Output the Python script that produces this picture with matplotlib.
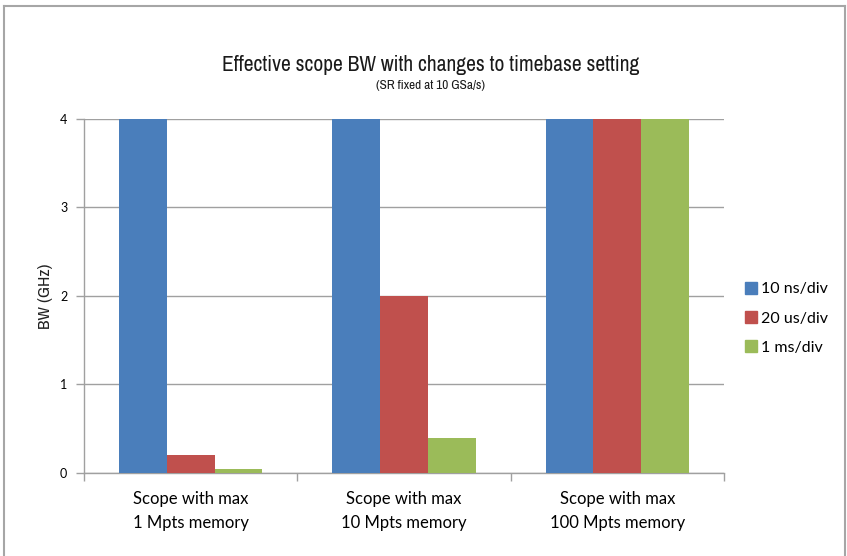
import numpy as np
import matplotlib.pyplot as plt
from matplotlib.lines import Line2D
from matplotlib import font_manager

# Data
categories = ['Scope with max\n1 Mpts memory', 'Scope with max\n10 Mpts memory',
              'Scope with max\n100 Mpts memory']
series_names = ['10 ns/div', '20 us/div', '1 ms/div']
bw_10ns = [4.0, 4.0, 4.0]
bw_20us = [0.2, 2.0, 4.0]
bw_1ms = [0.04, 0.4, 4.0]
colors = ['#4a7ebb', '#c0504d', '#9bbb59']

# look for a narrow font for the title (Univers Condensed look)
narrow = None
for f in font_manager.fontManager.ttflist:
    if 'Narrow' in f.name or 'Condensed' in f.name:
        narrow = f.name
        break
if narrow is None:
    for f in font_manager.fontManager.ttflist:
        if f.stretch in ('condensed', 'semi-condensed', 'extra-condensed') or \
                (isinstance(f.stretch, int) and f.stretch < 500):
            narrow = f.name
            break
cond_font = [narrow, 'DejaVu Sans'] if narrow else ['DejaVu Sans']
cond_stretch = 'condensed'
body_font = ['Lato', 'DejaVu Sans']

fig = plt.figure(figsize=(8.47, 5.56), dpi=100)
ax = fig.add_axes([0.0992, 0.1493, 0.7556, 0.6367])

# Outer frame of the chart
frame_color = '#a6a6a6'
fig.add_artist(Line2D([4/847, 4/847], [0, 1 - 6/556], transform=fig.transFigure, color=frame_color, lw=1.5))
fig.add_artist(Line2D([4/847, 845/847], [1 - 6/556, 1 - 6/556], transform=fig.transFigure, color=frame_color, lw=1.5))
fig.add_artist(Line2D([845/847, 845/847], [0, 1 - 6/556], transform=fig.transFigure, color=frame_color, lw=1.5))

x = np.arange(len(categories))
w = 0.224
for i, (vals, name) in enumerate(zip([bw_10ns, bw_20us, bw_1ms], series_names)):
    ax.bar(x + (i - 1) * w, vals, width=w, color=colors[i], label=name, zorder=3)

ax.set_xlim(-0.5, 2.5)
ax.set_ylim(0, 4)
ax.set_yticks([0, 1, 2, 3, 4])
ax.set_yticklabels(['0', '1', '2', '3', '4'], fontsize=9, family=body_font)
ax.yaxis.grid(True, color='#a0a0a0', lw=1, zorder=0)

# category boundary ticks on x axis
ax.set_xticks([-0.5, 0.5, 1.5, 2.5])
ax.set_xticklabels([])
ax.set_xticks(x, minor=True)
ax.set_xticklabels(categories, minor=True, fontsize=12, family=body_font, linespacing=1.6)
ax.tick_params(axis='x', which='minor', length=0, pad=13)
ax.tick_params(axis='x', which='major', length=6, color='#a0a0a0', width=1)
ax.tick_params(axis='y', length=6, color='#a0a0a0', width=1, pad=6)

for side in ['top', 'right']:
    ax.spines[side].set_visible(False)
for side in ['left', 'bottom']:
    ax.spines[side].set_color('#a0a0a0')
    ax.spines[side].set_linewidth(1)

ax.set_ylabel('BW (GHz)', fontsize=12.5, family=cond_font, fontstretch=cond_stretch,
              labelpad=5, color='#222222')

fig.text(0.509, 0.883, 'Effective scope BW with changes to timebase setting',
         ha='center', va='center', fontsize=15.5, family=cond_font,
         fontstretch=cond_stretch, color='#1a1a1a')
fig.text(0.508, 0.847, '(SR fixed at 10 GSa/s)', ha='center', va='center',
         fontsize=9.5, family=cond_font, fontstretch=cond_stretch, color='#1a1a1a')

handles = [Line2D([], [], marker='s', linestyle='none', markersize=8,
                  markerfacecolor=c, markeredgecolor=c) for c in colors]
fig.legend(handles, series_names, loc='center left', bbox_to_anchor=(0.86, 0.427),
           frameon=False, prop={'family': body_font, 'size': 11.5},
           handletextpad=0.15, labelspacing=0.95, handlelength=1.0)

fig.savefig('out.png', dpi=100, facecolor='white')
